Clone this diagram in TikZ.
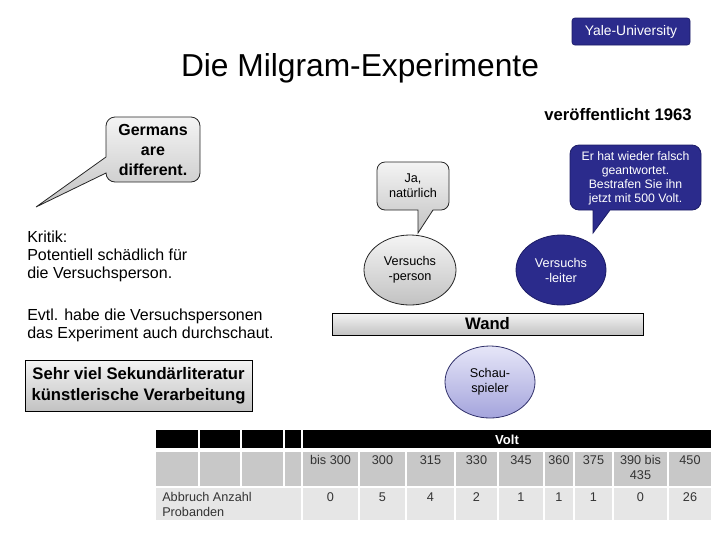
\documentclass[tikz,border=0pt]{standalone}
\usepackage{fontspec}
\setmainfont{Liberation Sans}
\usetikzlibrary{shapes.geometric}
\definecolor{navy}{HTML}{2B2B8C}
\definecolor{navydark}{HTML}{1C1C66}
\definecolor{cellgray}{HTML}{C8C8C8}
\definecolor{celllight}{HTML}{E6E6E6}
\definecolor{tabtext}{HTML}{333333}
\definecolor{lavtop}{HTML}{E6E6F8}
\definecolor{lavbot}{HTML}{A4A4DC}
\definecolor{lavline}{HTML}{30306A}
\definecolor{gtop}{HTML}{F4F4F4}
\definecolor{gbot}{HTML}{C2C2C2}
\newcommand{\fsz}[2]{\fontsize{#1}{#2}\selectfont}
\begin{document}
\begin{tikzpicture}[x=0.75pt,y=-0.75pt,
  graybubble/.style={draw=black!85, line width=0.6pt, top color=gtop, bottom color=gbot},
  bluebubble/.style={draw=navydark, line width=0.6pt, fill=navy},
  grayellipse/.style={ellipse, draw=black!85, line width=0.6pt, top color=gtop, bottom color=gbot, inner sep=0pt, align=center, font=\fsz{9.5}{11.25}},
  blueellipse/.style={ellipse, draw=navydark, line width=0.6pt, fill=navy, text=white, inner sep=0pt, align=center, font=\fsz{9.5}{11.25}},
  bartext/.style={draw=black, line width=0.6pt, top color=gtop, bottom color=gbot, inner sep=0pt, align=center, font=\bfseries\fsz{12.5}{15.75}},
  plaintext/.style={inner sep=0pt, align=left, anchor=north west, font=\fsz{12}{13.5}},
  tabcell/.style={inner sep=0pt, align=center, text=tabtext, font=\fsz{9.5}{11.25}}
]
\useasboundingbox (0,0) rectangle (720,540);

% Yale box and title
\node[fill=navy, draw=navydark, rounded corners=2pt, minimum width=88.5pt, minimum height=20.25pt, inner sep=0pt, text=white, font=\fsz{10.4}{12}] (yale) at (631,31.5) {Yale-University};
\node[inner sep=0pt, font=\fsz{23.8}{28}] (title) at (360,68) {Die Milgram-Experimente};
\node[inner sep=0pt, font=\bfseries\fsz{12.5}{15}] (publ) at (618,115) {veröffentlicht 1963};

% Germans bubble
\draw[graybubble] (115,117) -- (191,117) arc[start angle=-90,end angle=0,radius=9] -- (200,173) arc[start angle=0,end angle=90,radius=9] -- (115,182) arc[start angle=90,end angle=180,radius=9] -- (106,173) -- (36,207) -- (106,157) -- (106,126) arc[start angle=180,end angle=270,radius=9] -- cycle;
\node[inner sep=0pt, align=center, font=\bfseries\fsz{12}{15}] (germans) at (153,150) {Germans\\are\\different.};

% Ja bubble
\draw[graybubble] (385,162) -- (441,162) arc[start angle=-90,end angle=0,radius=8] -- (449,202) arc[start angle=0,end angle=90,radius=8] -- (433,210) -- (418,233) -- (418,210) -- (385,210) arc[start angle=90,end angle=180,radius=8] -- (377,170) arc[start angle=180,end angle=270,radius=8] -- cycle;
\node[inner sep=0pt, align=center, font=\fsz{9.5}{11.25}] (ja) at (413,186) {Ja,\\natürlich};

% Er hat bubble
\draw[bluebubble] (579,145) -- (692,145) arc[start angle=-90,end angle=0,radius=9] -- (701,201) arc[start angle=0,end angle=90,radius=9] -- (610,210) -- (593,233) -- (593,210) -- (579,210) arc[start angle=90,end angle=180,radius=9] -- (570,154) arc[start angle=180,end angle=270,radius=9] -- cycle;
\node[inner sep=0pt, align=center, text=white, font=\fsz{9.2}{10.5}] (erhat) at (635.5,178) {Er hat wieder falsch\\geantwortet.\\Bestrafen Sie ihn\\jetzt mit 500 Volt.};

% Left texts
\node[plaintext] (kritik) at (27,231) {Kritik:\\Potentiell schädlich für\\die Versuchsperson.};
\node[plaintext] (evtl) at (27,308.5) {Evtl. habe die Versuchspersonen\\das Experiment auch durchschaut.};

% Ellipses
\node[grayellipse, minimum width=69pt, minimum height=52.5pt] (vp) at (410,270) {Versuchs\\-person};
\node[blueellipse, minimum width=67.5pt, minimum height=52.5pt] (vl) at (561,270) {Versuchs\\-leiter};
\node[ellipse, draw=lavline, line width=0.6pt, top color=lavtop, bottom color=lavbot, inner sep=0pt, align=center, font=\fsz{9.5}{11.25}, minimum width=67.5pt, minimum height=54pt] (schau) at (490,382) {Schau-\\spieler};

% Wand and Sekundaerliteratur
\node[bartext, minimum width=233.25pt, minimum height=16.5pt] (wand) at (487.5,324) {Wand};
\node[bartext, minimum width=170.25pt, minimum height=38.25pt] (sek) at (138.5,385.5) {Sehr viel Sekundärliteratur\\künstlerische Verarbeitung};

% Table
\foreach \l/\r in {156/198, 200/240, 242/283, 285/301}{
  \fill[black] (\l,430) rectangle (\r,448);
  \fill[cellgray] (\l,452) rectangle (\r,486);
}
\fill[black] (303,430) rectangle (711,448);
\node[inner sep=0pt, text=white, font=\bfseries\fsz{9.8}{11.25}] (volt) at (507,439.5) {Volt};
\fill[celllight] (156,488) rectangle (301,520);
\node[tabcell, align=left, anchor=north west] (abbruch) at (162,492.5) {Abbruch Anzahl\\Probanden};
\foreach \l/\r/\va/\vb [count=\i] in {303/358/bis 300/0, 360/405/300/5, 407/454/315/4, 456/497/330/2, 499/543/345/1, 545/573/360/1, 575/612/375/1, 614/667/{390 bis\\435}/0, 669/711/450/26}{
  \fill[cellgray] (\l,452) rectangle (\r,486);
  \fill[celllight] (\l,488) rectangle (\r,520);
  \node[tabcell, anchor=north] (v\i) at ({(\l+\r)/2},455) {\va};
  \node[tabcell, anchor=north] (n\i) at ({(\l+\r)/2},492.5) {\vb};
}
\end{tikzpicture}
\end{document}
